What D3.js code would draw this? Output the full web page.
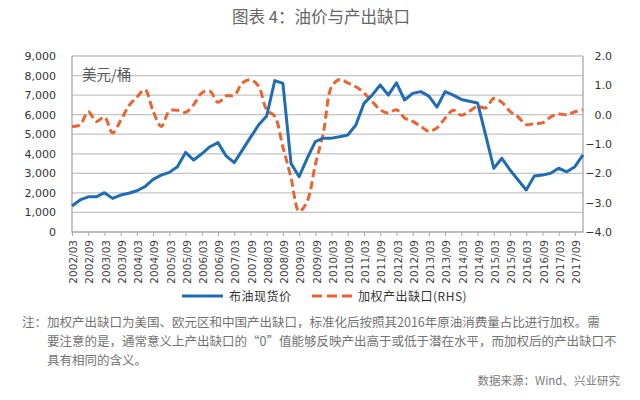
<!DOCTYPE html>
<html>
<head>
<meta charset="utf-8">
<script src="https://cdn.jsdelivr.net/npm/d3@7"></script>
<style>
body { margin: 0; background: #fff; }
text { font-family: "Noto Sans CJK SC", sans-serif; }
</style>
</head>
<body>
<div id="wrapper"></div>
<script>
var quarters = [
    "2002/03","2002/06","2002/09","2002/12","2003/03","2003/06","2003/09","2003/12",
    "2004/03","2004/06","2004/09","2004/12","2005/03","2005/06","2005/09","2005/12",
    "2006/03","2006/06","2006/09","2006/12","2007/03","2007/06","2007/09","2007/12",
    "2008/03","2008/06","2008/09","2008/12","2009/03","2009/06","2009/09","2009/12",
    "2010/03","2010/06","2010/09","2010/12","2011/03","2011/06","2011/09","2011/12",
    "2012/03","2012/06","2012/09","2012/12","2013/03","2013/06","2013/09","2013/12",
    "2014/03","2014/06","2014/09","2014/12","2015/03","2015/06","2015/09","2015/12",
    "2016/03","2016/06","2016/09","2016/12","2017/03","2017/06","2017/09","2017/12"
]

// 布油现货价 (left axis)
var brent = [
    1330, 1640, 1800, 1800, 2010, 1720, 1890, 1980,
    2110, 2320, 2690, 2910, 3050, 3340, 4070, 3680,
    4000, 4360, 4570, 3890, 3550, 4190, 4840, 5470,
    5930, 7740, 7600, 3510, 2830, 3770, 4620, 4800,
    4800, 4870, 4960, 5470, 6580, 7000, 7520, 7000,
    7630, 6750, 7090, 7180, 6950, 6390, 7180, 7000,
    6780, 6690, 6600, 4950, 3260, 3770, 3170, 2660,
    2150, 2860, 2910, 3000, 3260, 3080, 3340, 3940
]

// 加权产出缺口 (right axis)
var outputGap = [
    -0.40, -0.35, 0.10, -0.23, -0.08, -0.62, -0.20, 0.30,
    0.60, 0.85, 0.12, -0.40, 0.12, 0.15, 0.08, 0.34,
    0.74, 0.80, 0.42, 0.64, 0.66, 1.08, 1.19, 0.97,
    0.17, -0.06, -1.10, -2.15, -3.30, -2.95, -1.70, -0.60,
    0.95, 1.20, 1.08, 0.95, 0.74, 0.45, 0.17, 0.06,
    0.17, -0.11, -0.23, -0.40, -0.57, -0.45, -0.12, 0.15,
    -0.02, 0.12, 0.28, 0.23, 0.55, 0.42, 0.11, -0.08,
    -0.34, -0.30, -0.28, -0.08, 0.02, 0.00, 0.10, 0.17
]

var leftTicks = [0, 1000, 2000, 3000, 4000, 5000, 6000, 7000, 8000, 9000]
var rightTicks = [-4, -3, -2, -1, 0, 1, 2]
var tickLabels = quarters.filter(d => d.slice(5) == "03" || d.slice(5) == "09")

var noteLines = [
    "注：加权产出缺口为美国、欧元区和中国产出缺口，标准化后按照其2016年原油消费量占比进行加权。需",
    "要注意的是，通常意义上产出缺口的“0”值能够反映产出高于或低于潜在水平，而加权后的产出缺口不",
    "具有相同的含义。"
]

var BLUE = "#1f6db3"
var ORANGE = "#ea6430"

var dimension = {
    width: 640,
    height: 400,
    margin: { top: 56, right: 57, bottom: 168, left: 72 }
}
dimension.boundedWidth = dimension.width - dimension.margin.left - dimension.margin.right
dimension.boundedHeight = dimension.height - dimension.margin.top - dimension.margin.bottom

var root = d3.select("#wrapper")
    .append("svg")
    .attr("width", dimension.width)
    .attr("height", dimension.height)

var svg = root.append("g")
    .attr("transform", `translate(${dimension.margin.left},${dimension.margin.top})`)

var x = d3.scalePoint()
    .domain(quarters)
    .range([0, dimension.boundedWidth])

var yLeft = d3.scaleLinear()
    .domain([0, 9000])
    .range([dimension.boundedHeight, 0])

var yRight = d3.scaleLinear()
    .domain([-4, 2])
    .range([dimension.boundedHeight, 0])

// grid
svg.append("g")
    .selectAll("line")
    .data(leftTicks.slice(1))
    .enter()
    .append("line")
    .attr("x1", 0)
    .attr("x2", dimension.boundedWidth)
    .attr("y1", d => yLeft(d))
    .attr("y2", d => yLeft(d))
    .style("stroke", "#c4c4c4")
    .style("stroke-width", 1.3)

// frame (left, bottom, right)
svg.append("path")
    .attr("d", `M0,0V${dimension.boundedHeight}H${dimension.boundedWidth}V0`)
    .style("fill", "none")
    .style("stroke", "#a8a8a8")
    .style("stroke-width", 1.3)

// x axis
var xAxis = svg.append("g")
    .attr("transform", `translate(0,${dimension.boundedHeight})`)
    .call(d3.axisBottom(x).tickValues(tickLabels).tickSize(4))
xAxis.select(".domain").remove()
xAxis.selectAll(".tick line").style("stroke", "#a8a8a8")
xAxis.selectAll("text")
    .attr("transform", "rotate(-90)")
    .attr("x", -8)
    .attr("y", 1)
    .attr("dy", "0.35em")
    .style("text-anchor", "end")
    .style("font-family", "'DejaVu Sans', sans-serif")
    .style("font-size", "10.5px")
    .style("fill", "#444")

// left axis
var leftAxis = svg.append("g")
    .call(d3.axisLeft(yLeft).tickValues(leftTicks).tickSize(0).tickPadding(16).tickFormat(d3.format(",")))
leftAxis.select(".domain").remove()
leftAxis.selectAll("text")
    .style("font-family", "'DejaVu Sans', sans-serif")
    .style("font-size", "11px")
    .style("fill", "#333")

// right axis
var rightAxis = svg.append("g")
    .attr("transform", `translate(${dimension.boundedWidth},0)`)
    .call(d3.axisRight(yRight).tickValues(rightTicks).tickSize(0).tickFormat(d3.format(".1f")))
rightAxis.select(".domain").remove()
rightAxis.selectAll("text")
    .attr("x", 29)
    .style("text-anchor", "end")
    .style("font-family", "'DejaVu Sans', sans-serif")
    .style("font-size", "11px")
    .style("fill", "#333")

// unit label
svg.append("text")
    .attr("x", 10)
    .attr("y", 24)
    .text("美元/桶")
    .style("font-size", "14.5px")
    .style("fill", "#595959")

// lines
var brentLine = d3.line()
    .x((d, i) => x(quarters[i]))
    .y(d => yLeft(d))

var gapLine = d3.line()
    .x((d, i) => x(quarters[i]))
    .y(d => yRight(d))
    .curve(d3.curveCatmullRom.alpha(0.5))

svg.append("path")
    .datum(outputGap)
    .attr("d", gapLine)
    .style("fill", "none")
    .style("stroke", ORANGE)
    .style("stroke-width", 3)
    .style("stroke-dasharray", "8,4")

svg.append("path")
    .datum(brent)
    .attr("d", brentLine)
    .style("fill", "none")
    .style("stroke", BLUE)
    .style("stroke-width", 3)
    .style("stroke-linejoin", "round")

// title
root.append("text")
    .attr("x", 321)
    .attr("y", 23)
    .attr("text-anchor", "middle")
    .text("图表 4：油价与产出缺口")
    .style("font-size", "16.5px")
    .style("font-weight", 400)
    .style("fill", "#666")

// legend
var legend = root.append("g")
legend.append("line")
    .attr("x1", 182).attr("x2", 223).attr("y1", 296).attr("y2", 296)
    .style("stroke", BLUE).style("stroke-width", 3)
legend.append("text")
    .attr("x", 229).attr("y", 300.5)
    .text("布油现货价")
    .style("font-size", "12px").style("letter-spacing", "0.5px").style("fill", "#333")
legend.append("line")
    .attr("x1", 312).attr("x2", 352).attr("y1", 296).attr("y2", 296)
    .style("stroke", ORANGE).style("stroke-width", 3).style("stroke-dasharray", "10,5")
legend.append("text")
    .attr("x", 358).attr("y", 300.5)
    .text("加权产出缺口(RHS)")
    .style("font-size", "12px").style("letter-spacing", "0.5px").style("fill", "#333")

// note
root.append("g")
    .selectAll("text")
    .data(noteLines)
    .enter()
    .append("text")
    .attr("x", (d, i) => i == 0 ? 22 : 47)
    .attr("y", (d, i) => 327 + i * 19)
    .text(d => d)
    .style("font-size", "12.5px")
    .style("fill", "#737373")

root.append("text")
    .attr("x", 620)
    .attr("y", 385)
    .attr("text-anchor", "end")
    .text("数据来源：Wind、兴业研究")
    .style("font-size", "11.5px")
    .style("fill", "#7a7a7a")
</script>
</body>
</html>
